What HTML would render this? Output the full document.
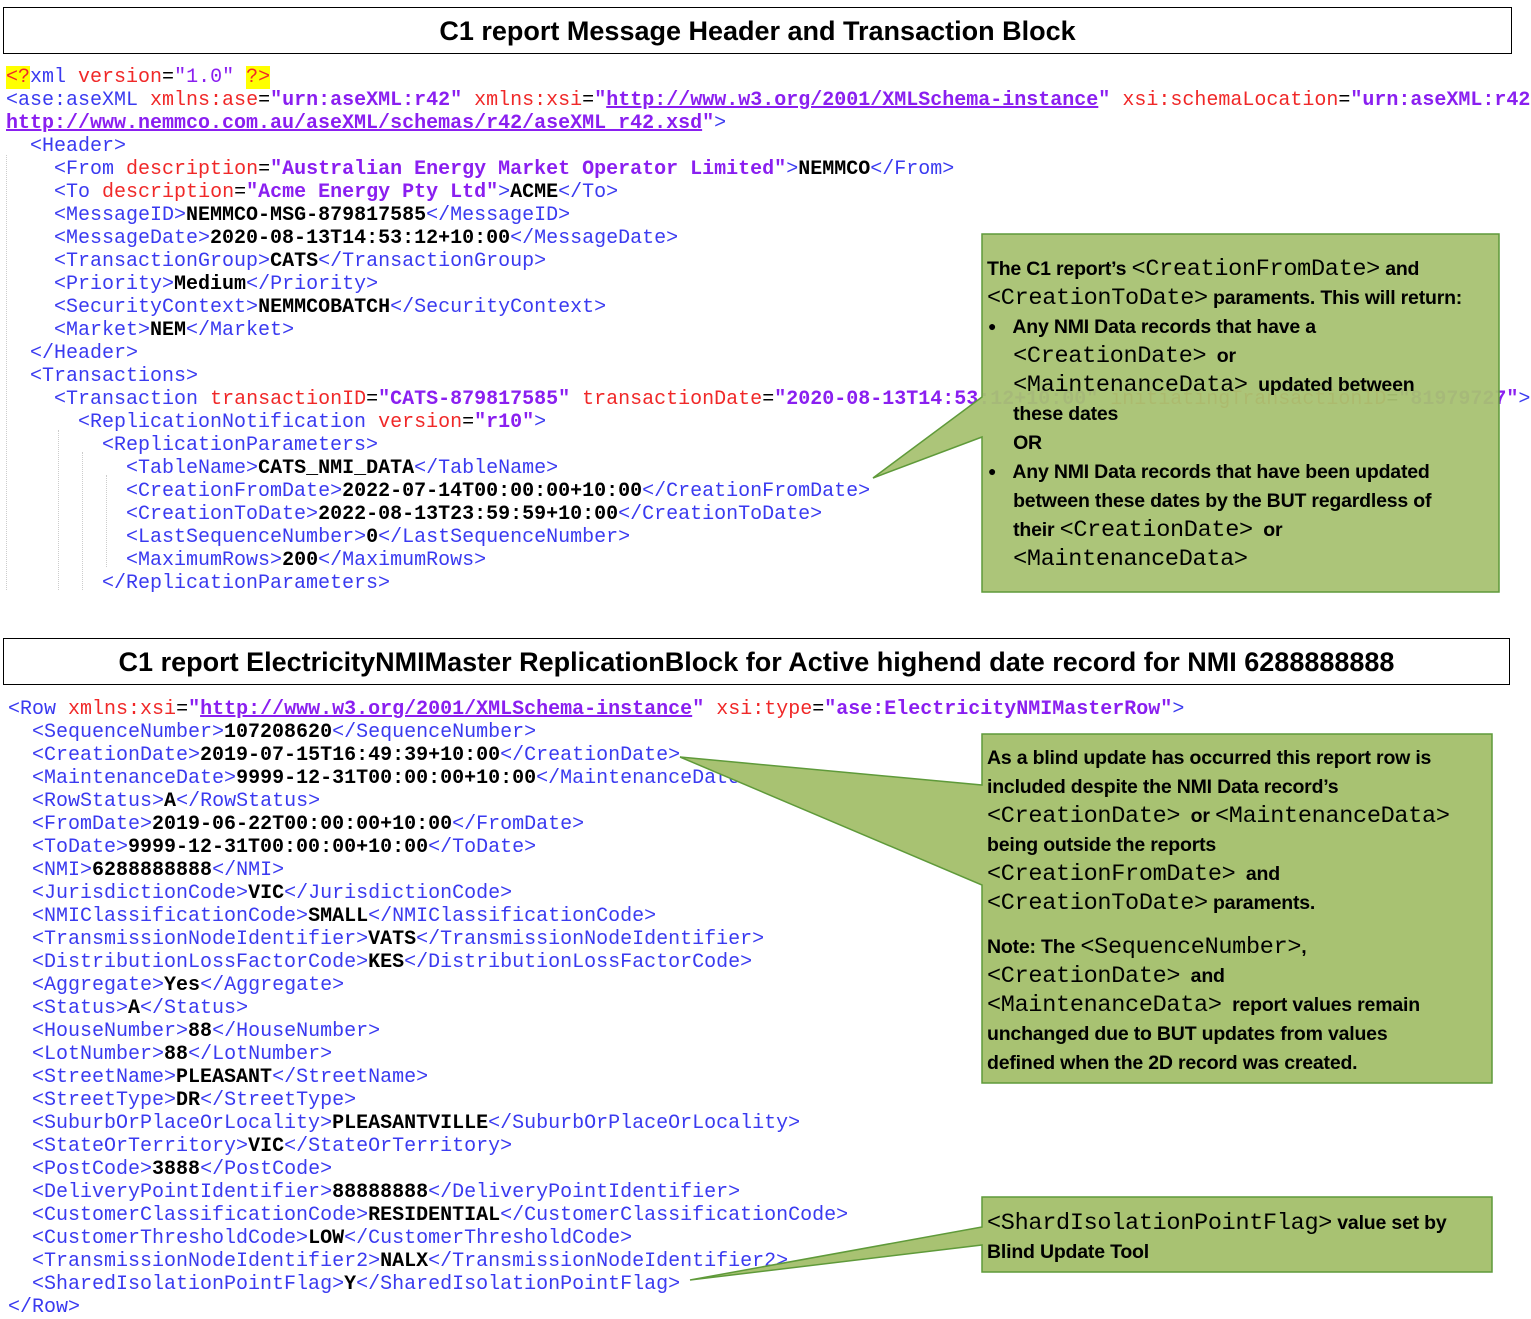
<!DOCTYPE html>
<html><head><meta charset="utf-8"><style>
body{margin:0;width:1531px;height:1317px;background:#fff;position:relative;overflow:hidden}
.title{position:absolute;left:3px;width:1507px;height:47px;border:1px solid #000;box-sizing:border-box;font:bold 27px "Liberation Sans",sans-serif;text-align:center;line-height:46px;color:#000}
.code{position:absolute;font:20px/23px "Liberation Mono",monospace;white-space:pre;color:#000}
.t{color:#3a3af0}.a{color:#f02828}.v{color:#8a1ff0;font-weight:bold}.x{font-weight:bold;color:#000}
.u{text-decoration:underline;color:#8a1ff0;font-weight:bold}.y{background:#ffff00;color:#f02828}
.guide{position:absolute;border-left:1px dotted #ccc}
.co{position:absolute;font:bold 19.5px/29px "Liberation Sans",sans-serif;color:#000;white-space:pre;letter-spacing:-0.2px}
.m{font:23.5px "Liberation Mono",monospace;font-weight:normal;letter-spacing:-0.3px}
.b{position:absolute;font:bold 14px "Liberation Sans",sans-serif}
</style></head><body>
<div class="title" style="top:7px;width:1509px">C1 report Message Header and Transaction Block</div>
<div class="guide" style="left:6px;top:155px;height:435px"></div>
<div class="guide" style="left:58px;top:430px;height:160px"></div>
<div class="guide" style="left:82px;top:452px;height:138px"></div>
<div class="guide" style="left:106px;top:475px;height:92px"></div>
<div class="code" style="left:6px;top:66px"><span class="y">&lt;?</span><span class="t">xml</span><span class="a"> version</span>=<span style="color:#8a1ff0">"1.0"</span> <span class="y">?&gt;</span>
<span class="t">&lt;ase:aseXML</span> <span class="a">xmlns:ase</span>=<span class="v">"urn:aseXML:r42"</span> <span class="a">xmlns:xsi</span>=<span class="v">"</span><span class="u">http://www.w3.org/2001/XMLSchema-instance</span><span class="v">"</span> <span class="a">xsi:schemaLocation</span>=<span class="v">"urn:aseXML:r42</span>
<span class="u">http://www.nemmco.com.au/aseXML/schemas/r42/aseXML_r42.xsd</span><span class="v">"</span><span class="t">&gt;</span>
  <span class="t">&lt;Header&gt;</span>
    <span class="t">&lt;From</span> <span class="a">description</span>=<span class="v">"Australian Energy Market Operator Limited"</span><span class="t">&gt;</span><span class="x">NEMMCO</span><span class="t">&lt;/From&gt;</span>
    <span class="t">&lt;To</span> <span class="a">description</span>=<span class="v">"Acme Energy Pty Ltd"</span><span class="t">&gt;</span><span class="x">ACME</span><span class="t">&lt;/To&gt;</span>
    <span class="t">&lt;MessageID&gt;</span><span class="x">NEMMCO-MSG-879817585</span><span class="t">&lt;/MessageID&gt;</span>
    <span class="t">&lt;MessageDate&gt;</span><span class="x">2020-08-13T14:53:12+10:00</span><span class="t">&lt;/MessageDate&gt;</span>
    <span class="t">&lt;TransactionGroup&gt;</span><span class="x">CATS</span><span class="t">&lt;/TransactionGroup&gt;</span>
    <span class="t">&lt;Priority&gt;</span><span class="x">Medium</span><span class="t">&lt;/Priority&gt;</span>
    <span class="t">&lt;SecurityContext&gt;</span><span class="x">NEMMCOBATCH</span><span class="t">&lt;/SecurityContext&gt;</span>
    <span class="t">&lt;Market&gt;</span><span class="x">NEM</span><span class="t">&lt;/Market&gt;</span>
  <span class="t">&lt;/Header&gt;</span>
  <span class="t">&lt;Transactions&gt;</span>
    <span class="t">&lt;Transaction</span> <span class="a">transactionID</span>=<span class="v">"CATS-879817585"</span> <span class="a">transactionDate</span>=<span class="v">"2020-08-13T14:53:12+10:00"</span> <span class="a">initiatingTransactionID</span>=<span class="v">"81979727"</span><span class="t">&gt;</span>
      <span class="t">&lt;ReplicationNotification</span> <span class="a">version</span>=<span class="v">"r10"</span><span class="t">&gt;</span>
        <span class="t">&lt;ReplicationParameters&gt;</span>
          <span class="t">&lt;TableName&gt;</span><span class="x">CATS_NMI_DATA</span><span class="t">&lt;/TableName&gt;</span>
          <span class="t">&lt;CreationFromDate&gt;</span><span class="x">2022-07-14T00:00:00+10:00</span><span class="t">&lt;/CreationFromDate&gt;</span>
          <span class="t">&lt;CreationToDate&gt;</span><span class="x">2022-08-13T23:59:59+10:00</span><span class="t">&lt;/CreationToDate&gt;</span>
          <span class="t">&lt;LastSequenceNumber&gt;</span><span class="x">0</span><span class="t">&lt;/LastSequenceNumber&gt;</span>
          <span class="t">&lt;MaximumRows&gt;</span><span class="x">200</span><span class="t">&lt;/MaximumRows&gt;</span>
        <span class="t">&lt;/ReplicationParameters&gt;</span></div>

<div class="title" style="top:638px">C1 report ElectricityNMIMaster ReplicationBlock for Active highend date record for NMI 6288888888</div>
<div class="code" style="left:8px;top:698px"><span class="t">&lt;Row</span> <span class="a">xmlns:xsi</span>=<span class="v">"</span><span class="u">http://www.w3.org/2001/XMLSchema-instance</span><span class="v">"</span> <span class="a">xsi:type</span>=<span class="v">"ase:ElectricityNMIMasterRow"</span><span class="t">&gt;</span>
  <span class="t">&lt;SequenceNumber&gt;</span><span class="x">107208620</span><span class="t">&lt;/SequenceNumber&gt;</span>
  <span class="t">&lt;CreationDate&gt;</span><span class="x">2019-07-15T16:49:39+10:00</span><span class="t">&lt;/CreationDate&gt;</span>
  <span class="t">&lt;MaintenanceDate&gt;</span><span class="x">9999-12-31T00:00:00+10:00</span><span class="t">&lt;/MaintenanceDate&gt;</span>
  <span class="t">&lt;RowStatus&gt;</span><span class="x">A</span><span class="t">&lt;/RowStatus&gt;</span>
  <span class="t">&lt;FromDate&gt;</span><span class="x">2019-06-22T00:00:00+10:00</span><span class="t">&lt;/FromDate&gt;</span>
  <span class="t">&lt;ToDate&gt;</span><span class="x">9999-12-31T00:00:00+10:00</span><span class="t">&lt;/ToDate&gt;</span>
  <span class="t">&lt;NMI&gt;</span><span class="x">6288888888</span><span class="t">&lt;/NMI&gt;</span>
  <span class="t">&lt;JurisdictionCode&gt;</span><span class="x">VIC</span><span class="t">&lt;/JurisdictionCode&gt;</span>
  <span class="t">&lt;NMIClassificationCode&gt;</span><span class="x">SMALL</span><span class="t">&lt;/NMIClassificationCode&gt;</span>
  <span class="t">&lt;TransmissionNodeIdentifier&gt;</span><span class="x">VATS</span><span class="t">&lt;/TransmissionNodeIdentifier&gt;</span>
  <span class="t">&lt;DistributionLossFactorCode&gt;</span><span class="x">KES</span><span class="t">&lt;/DistributionLossFactorCode&gt;</span>
  <span class="t">&lt;Aggregate&gt;</span><span class="x">Yes</span><span class="t">&lt;/Aggregate&gt;</span>
  <span class="t">&lt;Status&gt;</span><span class="x">A</span><span class="t">&lt;/Status&gt;</span>
  <span class="t">&lt;HouseNumber&gt;</span><span class="x">88</span><span class="t">&lt;/HouseNumber&gt;</span>
  <span class="t">&lt;LotNumber&gt;</span><span class="x">88</span><span class="t">&lt;/LotNumber&gt;</span>
  <span class="t">&lt;StreetName&gt;</span><span class="x">PLEASANT</span><span class="t">&lt;/StreetName&gt;</span>
  <span class="t">&lt;StreetType&gt;</span><span class="x">DR</span><span class="t">&lt;/StreetType&gt;</span>
  <span class="t">&lt;SuburbOrPlaceOrLocality&gt;</span><span class="x">PLEASANTVILLE</span><span class="t">&lt;/SuburbOrPlaceOrLocality&gt;</span>
  <span class="t">&lt;StateOrTerritory&gt;</span><span class="x">VIC</span><span class="t">&lt;/StateOrTerritory&gt;</span>
  <span class="t">&lt;PostCode&gt;</span><span class="x">3888</span><span class="t">&lt;/PostCode&gt;</span>
  <span class="t">&lt;DeliveryPointIdentifier&gt;</span><span class="x">88888888</span><span class="t">&lt;/DeliveryPointIdentifier&gt;</span>
  <span class="t">&lt;CustomerClassificationCode&gt;</span><span class="x">RESIDENTIAL</span><span class="t">&lt;/CustomerClassificationCode&gt;</span>
  <span class="t">&lt;CustomerThresholdCode&gt;</span><span class="x">LOW</span><span class="t">&lt;/CustomerThresholdCode&gt;</span>
  <span class="t">&lt;TransmissionNodeIdentifier2&gt;</span><span class="x">NALX</span><span class="t">&lt;/TransmissionNodeIdentifier2&gt;</span>
  <span class="t">&lt;SharedIsolationPointFlag&gt;</span><span class="x">Y</span><span class="t">&lt;/SharedIsolationPointFlag&gt;</span>
<span class="t">&lt;/Row&gt;</span></div>

<svg style="position:absolute;left:0;top:0" width="1531" height="1317">
<g fill="#a8c272" stroke="#5f9a3a" stroke-width="1.5" stroke-linejoin="miter">
<polygon points="982,234 1499,234 1499,592 982,592 982,437 873,478 982,397" fill-opacity="0.95"/>
<polygon points="982,734 1492,734 1492,1083 982,1083 982,885 680,757 982,785"/>
<polygon points="982,1197 1492,1197 1492,1272 982,1272 982,1245 690,1280 982,1227"/>
</g>
</svg>

<div class="co" style="left:987px;top:255px">The C1 report’s <span class="m">&lt;CreationFromDate&gt;</span> and
<span class="m">&lt;CreationToDate&gt;</span> paraments. This will return:
     Any NMI Data records that have a
     <span class="m">&lt;CreationDate&gt;</span>  or
     <span class="m">&lt;MaintenanceData&gt;</span>  updated between
     these dates
     OR
     Any NMI Data records that have been updated
     between these dates by the BUT regardless of
     their <span class="m">&lt;CreationDate&gt;</span>  or
     <span class="m">&lt;MaintenanceData&gt;</span></div>
<div class="b" style="left:988px;top:318px">●</div>
<div class="b" style="left:988px;top:463px">●</div>

<div class="co" style="left:987px;top:744px">As a blind update has occurred this report row is
included despite the NMI Data record’s
<span class="m">&lt;CreationDate&gt;</span>  or <span class="m">&lt;MaintenanceData&gt;</span>
being outside the reports
<span class="m">&lt;CreationFromDate&gt;</span>  and
<span class="m">&lt;CreationToDate&gt;</span> paraments.</div>
<div class="co" style="left:987px;top:933px">Note: The <span class="m">&lt;SequenceNumber&gt;</span>,
<span class="m">&lt;CreationDate&gt;</span>  and
<span class="m">&lt;MaintenanceData&gt;</span>  report values remain
unchanged due to BUT updates from values
defined when the 2D record was created.</div>

<div class="co" style="left:987px;top:1209px"><span class="m">&lt;ShardIsolationPointFlag&gt;</span> value set by
Blind Update Tool</div>
</body></html>
